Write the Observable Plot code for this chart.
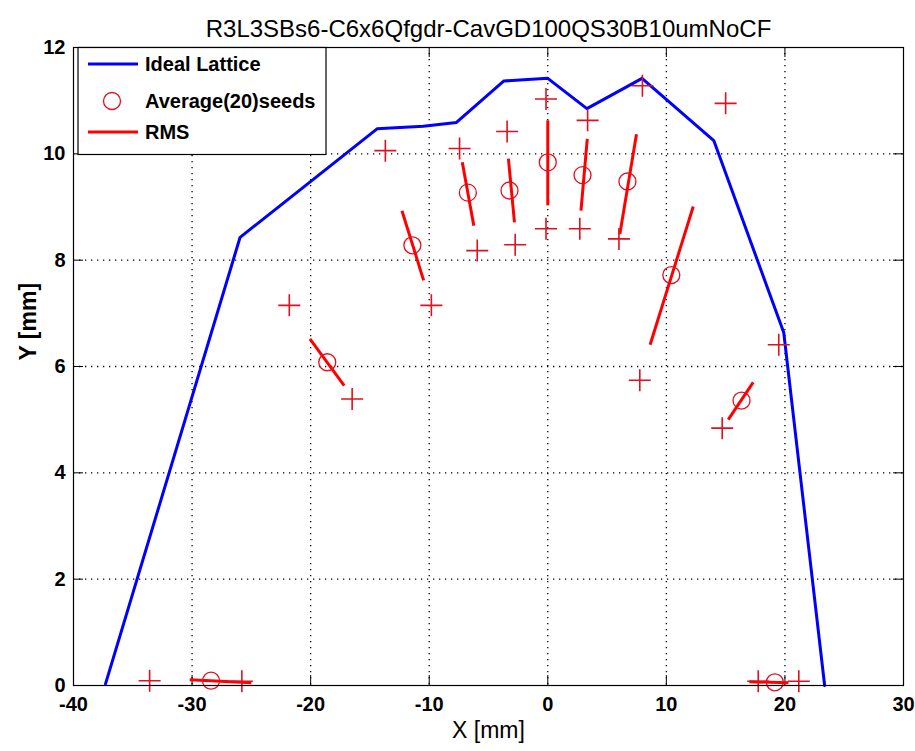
<!DOCTYPE html>
<html>
<head>
<meta charset="utf-8">
<script src="https://cdn.jsdelivr.net/npm/d3@7"></script>
<script src="https://cdn.jsdelivr.net/npm/@observablehq/plot@0.6"></script>
<style>
  html, body { margin: 0; padding: 0; background: #fff; }
  #chart { width: 915px; height: 751px; }
</style>
</head>
<body>
<div id="chart"></div>
<script>
// ---- Data ----
const titleText = "R3L3SBs6-C6x6Qfgdr-CavGD100QS30B10umNoCF";
const xTicks = [-40, -30, -20, -10, 0, 10, 20, 30];
const yTicks = [0, 2, 4, 6, 8, 10, 12];

// Ideal lattice (blue line)
const lattX = [-37.3, -25.95, -14.4, -10.5, -7.7, -3.7, 0, 3.3, 7.95, 14.0, 19.9, 23.35];
const lattY = [0.03, 8.43, 10.47, 10.52, 10.59, 11.37, 11.42, 10.85, 11.42, 10.25, 6.64, 0.0];

// Average of 20 seeds (circles)
const avgX = [-28.4, -18.6, -11.42, -6.74, -3.23, 0, 2.93, 6.72, 10.42, 16.34, 19.15];
const avgY = [0.09, 6.08, 8.28, 9.27, 9.31, 9.84, 9.6, 9.48, 7.72, 5.36, 0.06];

// RMS segments
const rmsX1 = [-30.2, -20.06, -12.3, -7.21, -3.32, 0, 3.33, 7.48, 12.27, 17.32, 17.0];
const rmsY1 = [0.11, 6.52, 8.93, 9.84, 9.91, 10.63, 10.28, 10.37, 9.01, 5.70, 0.07];
const rmsX2 = [-25.0, -17.17, -10.47, -6.24, -2.81, 0, 2.8, 6.08, 8.63, 15.22, 20.3];
const rmsY2 = [0.05, 5.64, 7.62, 8.65, 8.71, 9.03, 8.93, 8.49, 6.41, 5.0, 0.05];

// "+" markers
const plusX = [-33.58, -25.8, -21.8, -16.5, -13.7, -9.82, -7.44, -5.95, -3.43, -2.75, -0.15, -0.15, 2.7, 3.36, 6.0, 7.98, 7.76, 15.0, 14.71, 19.48, 17.75, 21.17];
const plusY = [0.09, 0.08, 7.15, 5.39, 10.06, 7.15, 10.1, 8.18, 10.42, 8.29, 11.03, 8.59, 8.59, 10.63, 8.4, 11.28, 5.74, 10.95, 4.84, 6.41, 0.08, 0.08];

// ---- Build tables ----
const lattice = lattX.map((x, i) => ({x, y: lattY[i]}));
const avg = avgX.map((x, i) => ({x, y: avgY[i]}));
const rms = rmsX1.map((x1, i) => ({x1, y1: rmsY1[i], x2: rmsX2[i], y2: rmsY2[i]}));
const plus = plusX.map((x, i) => ({x, y: plusY[i]}));

const plusSymbol = {
  draw(ctx, size) {
    const r = Math.sqrt(size / Math.PI);
    ctx.moveTo(-r, 0); ctx.lineTo(r, 0);
    ctx.moveTo(0, -r); ctx.lineTo(0, r);
  }
};

const W = 915, H = 751;
const mL = 73, mR = 12, mT = 47, mB = 66;
const frameW = W - mL - mR, frameH = H - mT - mB;
const FONT = "'Liberation Sans', Arial, sans-serif";

const chart = Plot.plot({
  width: W,
  height: H,
  marginLeft: mL,
  marginRight: mR,
  marginTop: mT,
  marginBottom: mB,
  style: {fontFamily: FONT, fontSize: "20px", fontWeight: "bold", color: "black", background: "white"},
  x: {domain: [-40, 30], ticks: xTicks, tickSize: 0, tickPadding: 11, label: null, tickFormat: d => String(d)},
  y: {domain: [0, 12], ticks: yTicks, tickSize: 0, tickPadding: 8, label: null, tickFormat: d => String(d)},
  marks: [
    // dotted grid
    Plot.ruleX(xTicks.slice(1, -1), {x: d => d, stroke: "black", strokeWidth: 1.3, strokeDasharray: "1.3,4.7"}),
    Plot.ruleY(yTicks.slice(1, -1), {y: d => d, stroke: "black", strokeWidth: 1.3, strokeDasharray: "1.3,4.7"}),
    // inward ticks (bottom, top, left, right)
    Plot.ruleX(xTicks, {x: d => d, insetTop: frameH - 10, stroke: "black"}),
    Plot.ruleX(xTicks, {x: d => d, insetBottom: frameH - 10, stroke: "black"}),
    Plot.ruleY(yTicks, {y: d => d, insetRight: frameW - 10, stroke: "black"}),
    Plot.ruleY(yTicks, {y: d => d, insetLeft: frameW - 10, stroke: "black"}),
    // ideal lattice
    Plot.line(lattice, {x: "x", y: "y", stroke: "#0000ff", strokeWidth: 3}),
    // RMS segments
    Plot.link(rms, {x1: "x1", y1: "y1", x2: "x2", y2: "y2", stroke: "#ff0000", strokeWidth: 3}),
    // averages
    Plot.dot(avg, {x: "x", y: "y", r: 8.5, stroke: "#e01020", fill: "none", strokeWidth: 1.3}),
    // + markers
    Plot.dot(plus, {x: "x", y: "y", r: 11, symbol: plusSymbol, stroke: "#e01020", fill: "none", strokeWidth: 1.6}),
    Plot.frame({stroke: "black", strokeWidth: 1.2}),
    // title and axis labels
    Plot.text([titleText], {frameAnchor: "top", text: d => d, dy: -28, fontSize: 24, fontWeight: "normal", fill: "black"}),
    Plot.text(["X [mm]"], {frameAnchor: "bottom", text: d => d, dy: 52, fontSize: 23, fontWeight: "normal", fill: "black"}),
    Plot.text(["Y [mm]"], {frameAnchor: "left", text: d => d, dx: -45, dy: -6, rotate: -90, fontSize: 23, fontWeight: "bold", fill: "black"})
  ]
});

document.getElementById("chart").appendChild(chart);

// ---- Legend (inside plot, top-left) ----
const svg = d3.select(chart);
const lg = svg.append("g").attr("font-family", FONT).attr("font-size", 20).attr("font-weight", "bold")
  .attr("text-anchor", "start");
lg.append("rect").attr("x", 78).attr("y", 47.5).attr("width", 248).attr("height", 107)
  .attr("fill", "white").attr("stroke", "black").attr("stroke-width", 1.2);
const items = [
  {label: "Ideal Lattice", type: "line", color: "#0000ff", y: 64},
  {label: "Average(20)seeds", type: "circle", color: "#e01020", y: 101},
  {label: "RMS", type: "line", color: "#ff0000", y: 132}
];
items.forEach(it => {
  if (it.type === "line") {
    lg.append("line").attr("x1", 88).attr("x2", 138).attr("y1", it.y).attr("y2", it.y)
      .attr("stroke", it.color).attr("stroke-width", 3);
  } else {
    lg.append("circle").attr("cx", 112).attr("cy", it.y).attr("r", 8.5)
      .attr("fill", "none").attr("stroke", it.color).attr("stroke-width", 1.3);
  }
  lg.append("text").attr("x", 145).attr("y", it.y).attr("dy", "0.36em")
    .attr("text-anchor", "start").attr("fill", "black").text(it.label);
});
</script>
</body>
</html>
